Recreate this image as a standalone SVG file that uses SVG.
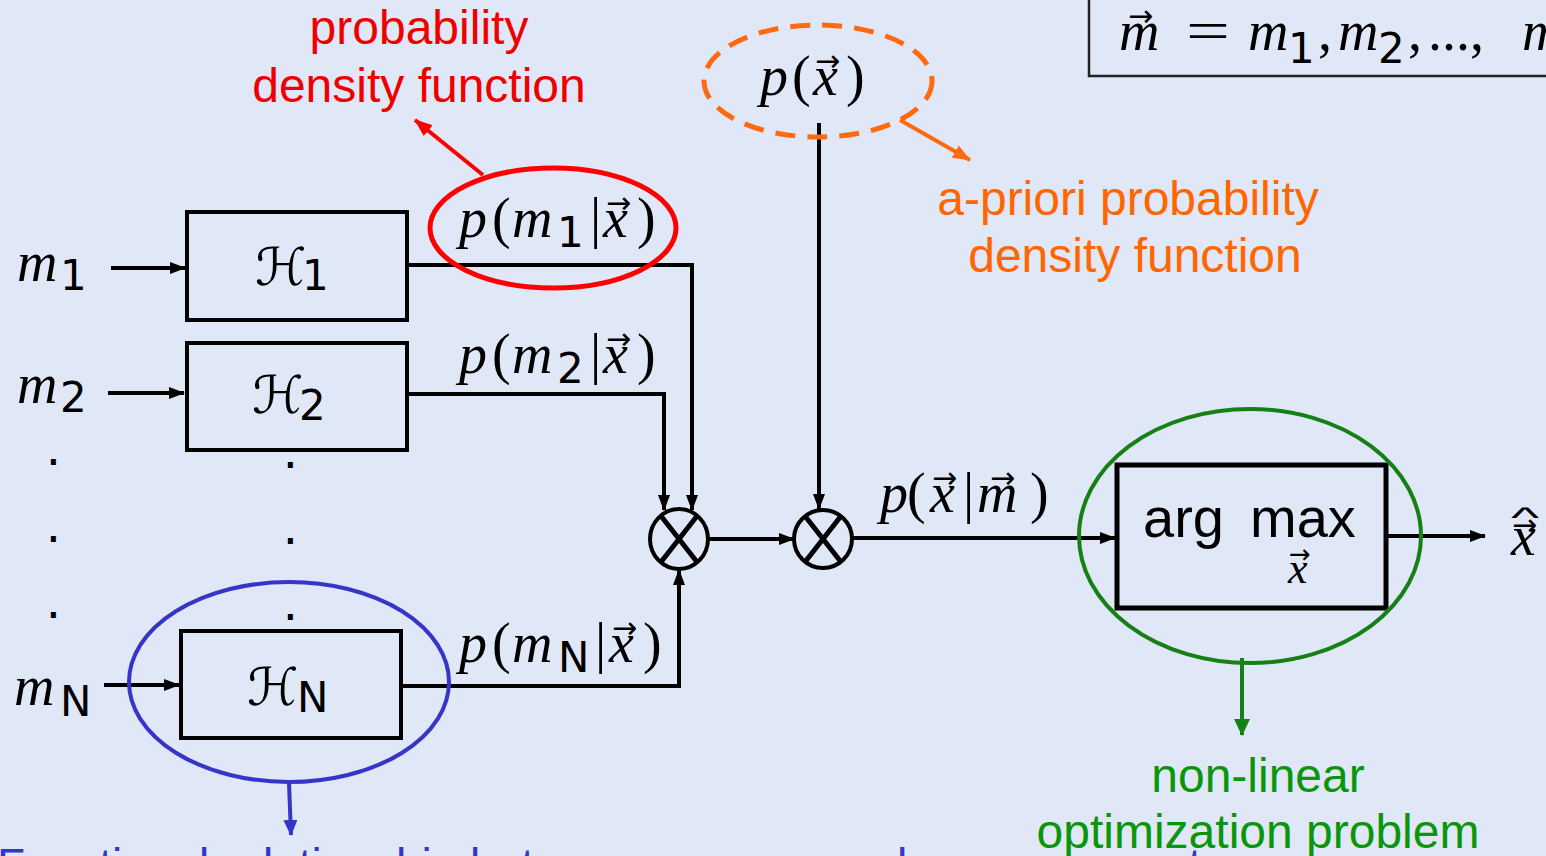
<svg xmlns="http://www.w3.org/2000/svg" width="1546" height="856" viewBox="0 0 1546 856">
<defs>
<style>
.box{fill:none;stroke:#000;stroke-width:4}
.ln{fill:none;stroke:#000;stroke-width:4}
.mi{font-family:"Liberation Serif","Times New Roman",serif;font-style:italic;font-size:56px;fill:#000}
.mr{font-family:"Liberation Serif","Times New Roman",serif;font-style:normal;font-size:56px;fill:#000}
.sb{font-family:"DejaVu Sans",sans-serif;font-style:normal;font-size:42px;fill:#000}
.va{font-family:"DejaVu Sans",sans-serif;font-style:normal;font-size:30px;fill:#000}
.cal{font-family:"DejaVu Serif","DejaVu Sans",serif;font-size:52px;fill:#000}
.lbl{font-family:"Liberation Sans",Arial,sans-serif;font-size:48px}
.dot{font-family:"DejaVu Sans",sans-serif;font-size:48px;fill:#000;text-anchor:middle}
</style>
<marker id="ah" markerUnits="userSpaceOnUse" markerWidth="16" markerHeight="12" refX="15" refY="6" orient="auto"><path d="M0,0 L16,6 L0,12 z" fill="#000"/></marker>
<marker id="ahr" markerUnits="userSpaceOnUse" markerWidth="18" markerHeight="14" refX="17" refY="7" orient="auto"><path d="M0,0 L18,7 L0,14 z" fill="#ff0000"/></marker>
<marker id="aho" markerUnits="userSpaceOnUse" markerWidth="18" markerHeight="14" refX="17" refY="7" orient="auto"><path d="M0,0 L18,7 L0,14 z" fill="#ff6a10"/></marker>
<marker id="ahg" markerUnits="userSpaceOnUse" markerWidth="17" markerHeight="16" refX="16" refY="8" orient="auto"><path d="M0,0 L17,8 L0,16 z" fill="#158015"/></marker>
<marker id="ahb" markerUnits="userSpaceOnUse" markerWidth="16" markerHeight="14" refX="15" refY="7" orient="auto"><path d="M0,0 L16,7 L0,14 z" fill="#3535c8"/></marker>
</defs>
<rect x="0" y="0" width="1546" height="856" fill="#e0e7f6"/>

<g id="vector-def">
<rect x="1089" y="-10" width="480" height="86" fill="none" stroke="#222" stroke-width="2.5"/>
<text class="mi" x="1119" y="50">m</text>
<text class="va" x="1128" y="26">→</text>
<text class="mr" x="1186" y="50" textLength="44" lengthAdjust="spacingAndGlyphs">=</text>
<text class="mi" y="50"><tspan x="1248">m</tspan><tspan class="sb" x="1288" y="63">1</tspan><tspan class="mr" x="1318" y="50">,</tspan><tspan x="1338">m</tspan><tspan class="sb" x="1378" y="63">2</tspan><tspan class="mr" x="1408" y="50">,</tspan><tspan class="mr" x="1428">...,</tspan><tspan x="1522">m</tspan></text>
</g>

<g id="connectors">
<path class="ln" d="M111,268 H185" marker-end="url(#ah)"/>
<path class="ln" d="M108,393 H184" marker-end="url(#ah)"/>
<path class="ln" d="M104,685 H179" marker-end="url(#ah)"/>
<path class="ln" d="M407,265 H692 V510" marker-end="url(#ah)"/>
<path class="ln" d="M407,394 H664 V510" marker-end="url(#ah)"/>
<path class="ln" d="M401,686 H679 V570" marker-end="url(#ah)"/>
<path class="ln" d="M709,539 H794" marker-end="url(#ah)"/>
<path class="ln" d="M819,123 V509" marker-end="url(#ah)"/>
<path class="ln" d="M852,538 H1115" marker-end="url(#ah)"/>
<path class="ln" d="M1388,536 H1485" marker-end="url(#ah)"/>
<path d="M483,175 L415,120" fill="none" stroke="#ff0000" stroke-width="4" marker-end="url(#ahr)"/>
<path d="M900,120 L970,160" fill="none" stroke="#ff6a10" stroke-width="4" marker-end="url(#aho)"/>
<path d="M1242,658 V735" fill="none" stroke="#158015" stroke-width="4" marker-end="url(#ahg)"/>
<path d="M289,783 L291,835" fill="none" stroke="#3535c8" stroke-width="4" marker-end="url(#ahb)"/>
</g>

<g id="in-m1"><text class="mi" x="17" y="281">m</text><text class="sb" x="60" y="290">1</text></g>
<g id="in-m2"><text class="mi" x="17" y="403">m</text><text class="sb" x="60" y="412">2</text></g>
<g id="in-mN"><text class="mi" x="14" y="705">m</text><text class="sb" x="60" y="716">N</text></g>

<g id="dots">
<text class="dot" x="53.5" y="465">.</text>
<text class="dot" x="53.5" y="542">.</text>
<text class="dot" x="53.5" y="618">.</text>
<text class="dot" x="290.5" y="468">.</text>
<text class="dot" x="290.5" y="544">.</text>
<text class="dot" x="290.5" y="620">.</text>
</g>

<g id="H1"><rect class="box" x="187" y="212" width="220" height="108"/><text class="cal" x="255" y="285">ℋ</text><text class="sb" x="302" y="290">1</text></g>
<g id="H2"><rect class="box" x="187" y="343" width="220" height="107"/><text class="cal" x="252" y="413">ℋ</text><text class="sb" x="299" y="420">2</text></g>
<g id="HN"><rect class="box" x="181" y="631" width="220" height="107"/><text class="cal" x="247" y="705">ℋ</text><text class="sb" x="297" y="712">N</text></g>

<g id="lbl-p1">
<text class="mi" y="237"><tspan x="459">p</tspan><tspan class="mr" x="492">(</tspan><tspan x="512">m</tspan><tspan class="sb" x="557" y="247">1</tspan><tspan class="mr" x="590" y="237">|</tspan><tspan x="603">x</tspan><tspan class="mr" x="637">)</tspan></text>
<text class="va" x="606" y="213">→</text>
</g>
<g id="lbl-p2">
<text class="mi" y="373"><tspan x="459">p</tspan><tspan class="mr" x="492">(</tspan><tspan x="512">m</tspan><tspan class="sb" x="557" y="383">2</tspan><tspan class="mr" x="590" y="373">|</tspan><tspan x="603">x</tspan><tspan class="mr" x="637">)</tspan></text>
<text class="va" x="606" y="349">→</text>
</g>
<g id="lbl-pN">
<text class="mi" y="662"><tspan x="459">p</tspan><tspan class="mr" x="492">(</tspan><tspan x="512">m</tspan><tspan class="sb" x="558" y="672">N</tspan><tspan class="mr" x="595" y="662">|</tspan><tspan x="609">x</tspan><tspan class="mr" x="643">)</tspan></text>
<text class="va" x="612" y="638">→</text>
</g>
<g id="lbl-px">
<text class="mi" y="95"><tspan x="760">p</tspan><tspan class="mr" x="792">(</tspan><tspan x="813">x</tspan><tspan class="mr" x="846">)</tspan></text>
<text class="va" x="815" y="71">→</text>
</g>
<g id="lbl-pxm">
<text class="mi" y="512"><tspan x="880">p</tspan><tspan class="mr" x="907">(</tspan><tspan x="930">x</tspan><tspan class="mr" x="963">|</tspan><tspan x="977">m</tspan><tspan class="mr" x="1030">)</tspan></text>
<text class="va" x="932" y="488">→</text>
<text class="va" x="990" y="488">→</text>
</g>

<g id="mult1"><ellipse cx="679" cy="539" rx="29" ry="30" fill="none" stroke="#000" stroke-width="4"/><path d="M661,516 L697,562 M697,516 L661,562" stroke="#000" stroke-width="5"/></g>
<g id="mult2"><ellipse cx="823" cy="539" rx="29" ry="29" fill="none" stroke="#000" stroke-width="4"/><path d="M805,516 L841,562 M841,516 L805,562" stroke="#000" stroke-width="5"/></g>

<g id="argmax">
<rect x="1117" y="465" width="269" height="143" fill="none" stroke="#000" stroke-width="5"/>
<text class="lbl" y="537" style="font-size:56px" fill="#000"><tspan x="1143">arg</tspan><tspan x="1250">max</tspan></text>
<text class="mi" x="1288" y="583" style="font-size:44px">x</text>
<text class="va" x="1289" y="563" style="font-size:26px">→</text>
</g>

<g id="output">
<text class="mi" x="1511" y="555">x</text>
<text class="va" x="1512" y="535">→</text>
<text font-family="Liberation Sans, sans-serif" font-size="30" text-anchor="middle" transform="translate(1525,528) scale(2,1)">^</text>
</g>

<g id="note-red">
<ellipse cx="553" cy="228" rx="123" ry="60" fill="none" stroke="#ff0000" stroke-width="5"/>
<text class="lbl" fill="#ee0000" text-anchor="middle"><tspan x="419" y="44">probability</tspan><tspan x="419" y="102">density function</tspan></text>
</g>
<g id="note-orange">
<ellipse cx="818" cy="81" rx="114" ry="56" fill="none" stroke="#ff6a10" stroke-width="5" stroke-dasharray="20 12"/>
<text class="lbl" fill="#ff6600" text-anchor="middle"><tspan x="1128" y="215">a-priori probability</tspan><tspan x="1135" y="272">density function</tspan></text>
</g>
<g id="note-green">
<ellipse cx="1250" cy="536" rx="171" ry="127" fill="none" stroke="#158015" stroke-width="4"/>
<text class="lbl" fill="#0a960a" text-anchor="middle"><tspan x="1258" y="792">non-linear</tspan><tspan x="1258" y="848">optimization problem</tspan></text>
</g>
<g id="note-blue">
<ellipse cx="289" cy="682" rx="160" ry="100" fill="none" stroke="#3535c8" stroke-width="4"/>
<text class="lbl" x="-3" y="881" fill="#3535c8" style="font-size:46px">Functional relationship between sources and measurements</text>
</g>
</svg>
